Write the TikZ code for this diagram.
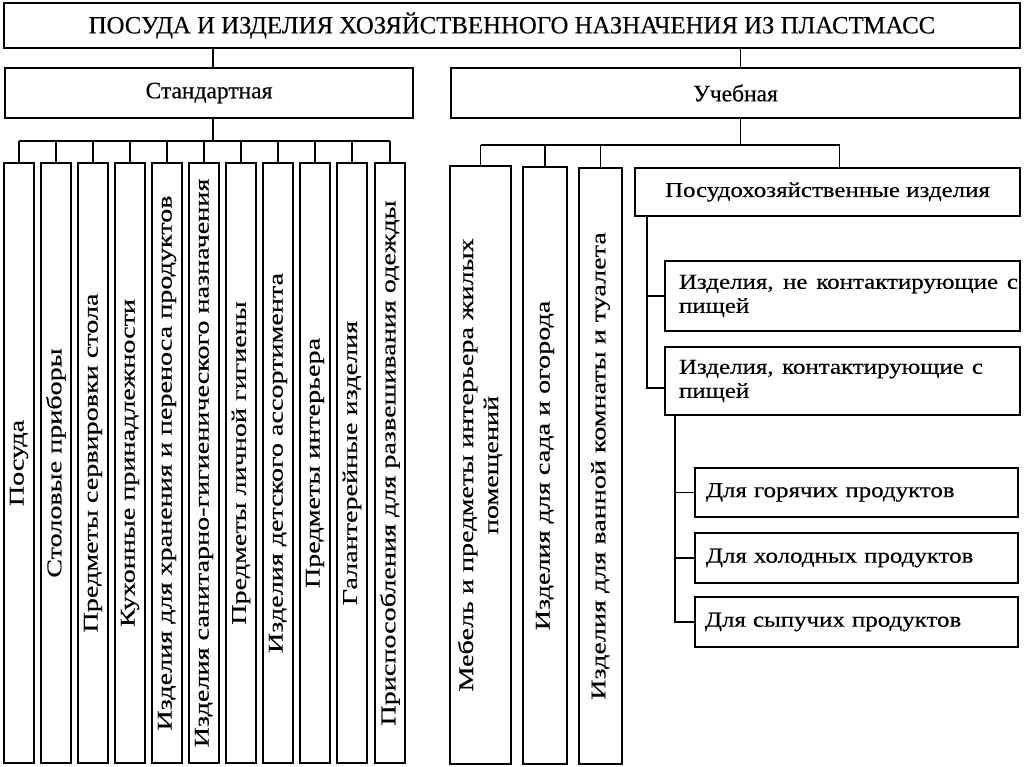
\documentclass[tikz,border=0pt]{standalone}
\usepackage{fontspec}
\setmainfont{Liberation Serif}
\newfontfamily\colfont[FakeStretch=1.34,FakeBold=0.4]{Liberation Serif}
\newfontfamily\boxfont[FakeStretch=1.17,FakeBold=0.4]{Liberation Serif}
\newfontfamily\headfont[FakeBold=0.3]{Liberation Serif}
\newcommand{\vt}[1]{\rotatebox{90}{\colfont\fontsize{21}{25}\selectfont #1}}
\newcommand{\bx}{\boxfont\fontsize{21.3}{24}\selectfont}
\begin{document}
\begin{tikzpicture}[x=1pt,y=-1pt,
  every node/.style={inner sep=0pt, outer sep=0pt},
  box/.style={draw, line width=1.6pt, anchor=north west, align=center},
  colbox/.style={box, minimum width=30, minimum height=600},
  link/.style={line width=1.6pt}]
\useasboundingbox (0,0) rectangle (1024,767);

% top level
\node[box, minimum width=1016, minimum height=45] (top) at (4,3)
  {\headfont\fontsize{24.8}{28}\selectfont ПОСУДА И ИЗДЕЛИЯ ХОЗЯЙСТВЕННОГО НАЗНАЧЕНИЯ ИЗ ПЛАСТМАСС};
\node[box, minimum width=408, minimum height=50] (std) at (5,68)
  {\headfont\fontsize{23.5}{28}\selectfont Стандартная};
\node[box, minimum width=569, minimum height=50] (ucb) at (451,68)
  {\headfont\fontsize{23.5}{28}\selectfont Учебная};

% left columns
\node[colbox] (c1) at (4,163) {\vt{Посуда}};
\node[colbox] (c2) at (41,163) {\vt{Столовые приборы}};
\node[colbox] (c3) at (78,163) {\vt{Предметы сервировки стола}};
\node[colbox] (c4) at (115,163) {\vt{Кухонные принадлежности}};
\node[colbox] (c5) at (152,163) {\vt{Изделия для хранения и переноса продуктов}};
\node[colbox] (c6) at (189,163) {\vt{Изделия санитарно-гигиенического назначения}};
\node[colbox] (c7) at (226,163) {\vt{Предметы личной гигиены}};
\node[colbox] (c8) at (263,163) {\vt{Изделия детского ассортимента}};
\node[colbox] (c9) at (300,163) {\vt{Предметы интерьера}};
\node[colbox] (c10) at (337,163) {\vt{Галантерейные изделия}};
\node[colbox] (c11) at (375,163) {\vt{Приспособления для развешивания одежды}};

% right columns
\node[box, minimum width=61, minimum height=598] (ra) at (450,166)
  {\vt{\begin{tabular}{@{}c@{}}Мебель и предметы интерьера жилых\\помещений\end{tabular}}};
\node[box, minimum width=44, minimum height=597] (rb) at (523,167) {\vt{Изделия для сада и огорода}};
\node[box, minimum width=43, minimum height=596] (rc) at (579,168) {\vt{Изделия для ванной комнаты и туалета}};
\node[box, minimum width=385, minimum height=48, font=\bx] (rd) at (635,168)
  {Посудохозяйственные изделия};

\node[box, minimum width=355, minimum height=70, font=\bx] (s1) at (665,261)
  {\hspace*{12pt}\makebox[339pt][s]{Изделия, не контактирующие с}\\
   \hspace*{12pt}\makebox[339pt][l]{пищей}};
\node[box, minimum width=355, minimum height=68, font=\bx] (s2) at (665,347)
  {\hspace*{12pt}\makebox[339pt][l]{\makebox[304pt][s]{Изделия, контактирующие с}}\\
   \hspace*{12pt}\makebox[339pt][l]{пищей}};

\node[box, minimum width=323, minimum height=49, text width=301, align=left, font=\bx] (t1) at (695,468)
  {Для горячих продуктов};
\node[box, minimum width=323, minimum height=50, text width=301, align=left, font=\bx] (t2) at (695,533)
  {Для холодных продуктов};
\node[box, minimum width=323, minimum height=50, text width=303, align=left, font=\bx] (t3) at (695,597)
  {Для сыпучих продуктов};

% connectors
\coordinate (busL) at (0,141);
\coordinate (busR) at (0,145);
\draw[link] ([xshift=4]top.south -| std.north) -- ([xshift=4]std.north);
\draw[link] ([xshift=5]top.south -| ucb.north) -- ([xshift=5]ucb.north);

\draw[link] ([xshift=4]std.south) -- ([xshift=4]std.south |- busL);
\draw[link] (c1.north |- busL) -- (c11.north |- busL);
\foreach \i in {1,...,11} \draw[link] (c\i.north) -- (c\i.north |- busL);

\draw[link] ([xshift=5]ucb.south) -- ([xshift=5]ucb.south |- busR);
\draw[link] (ra.north |- busR) -- ([xshift=12]rd.north |- busR);
\draw[link] (ra.north) -- (ra.north |- busR);
\draw[link] (rb.north) -- (rb.north |- busR);
\draw[link] (rc.north) -- (rc.north |- busR);
\draw[link] ([xshift=12]rd.north) -- ([xshift=12]rd.north |- busR);

\draw[link] ([xshift=12]rd.south west) |- (s1.west);
\draw[link] ([xshift=12]rd.south west) |- ([yshift=-7]s2.west);

\draw[link] ([xshift=10]s2.south west) |- (t1.west);
\draw[link] ([xshift=10]s2.south west) |- (t2.west);
\draw[link] ([xshift=10]s2.south west) |- (t3.west);
\end{tikzpicture}
\end{document}
